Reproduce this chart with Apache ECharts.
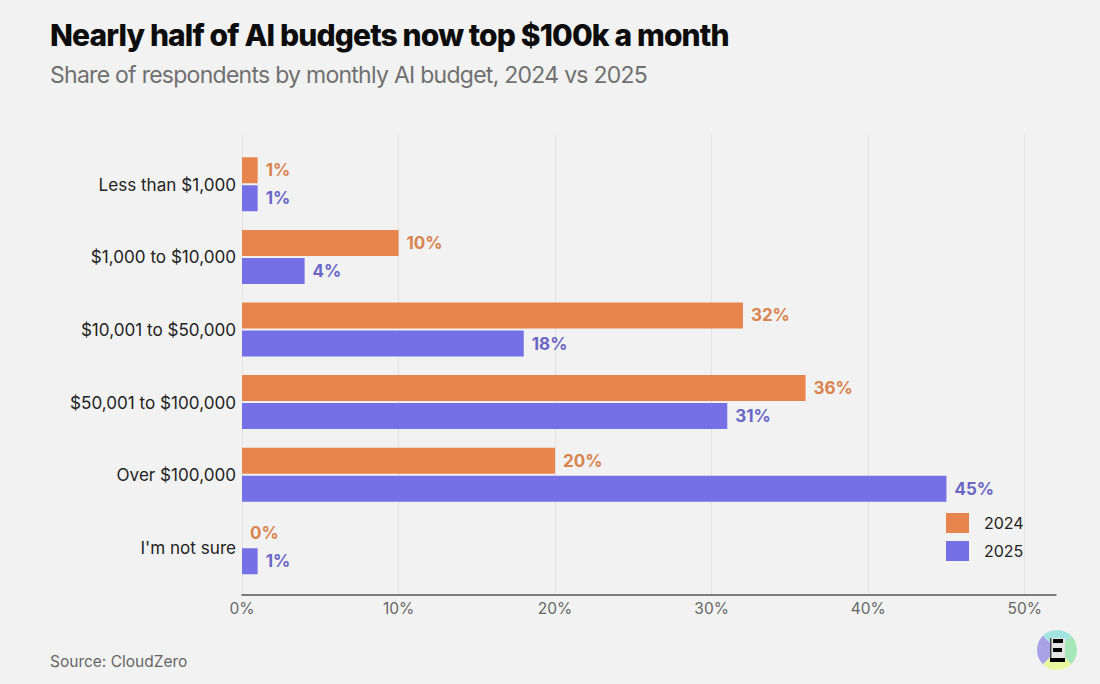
<!DOCTYPE html>
<html><head><meta charset="utf-8">
<style>html,body{margin:0;padding:0;background:#f2f2f2}#c{width:1100px;height:684px}</style>
<script src="https://cdn.jsdelivr.net/npm/echarts@6/dist/echarts.min.js"></script>
</head><body><div id="c"></div>
<script>
const categories = ["Less than $1,000","$1,000 to $10,000","$10,001 to $50,000","$50,001 to $100,000","Over $100,000","I'm not sure"];
const values2024 = [1,10,32,36,20,0];
const values2025 = [1,4,18,31,45,1];
const ticksMax = 52;
const titleText = "Nearly half of AI budgets now top $100k a month";
const subtitleText = "Share of respondents by monthly AI budget, 2024 vs 2025";
const sourceText = "Source: CloudZero";
const F = "Inter, 'Noto Sans', sans-serif";
const chart = echarts.init(document.getElementById('c'), null, {renderer:'svg'});
const lx = 1057, ly = 650, r = 20, rad = d => d*Math.PI/180;
const sector = (a,b,c) => ({type:'sector',shape:{cx:lx,cy:ly,r:r,r0:0,startAngle:rad(a),endAngle:rad(b)},style:{fill:c},z:10});
chart.setOption({
  animation:false,
  backgroundColor:'#f2f2f2',
  title:[
    {text:titleText,left:45,top:15,textStyle:{fontFamily:F,fontSize:30,fontWeight:800,color:'#0c0c0c'}},
    {text:subtitleText,left:45,top:58,textStyle:{fontFamily:F,fontSize:23,fontWeight:400,color:'#707070'}},
    {text:sourceText,left:45,top:648,textStyle:{fontFamily:F,fontSize:15.5,fontWeight:400,color:'#666666'}}
  ],
  legend:{
    data:['2024','2025'],orient:'vertical',left:941,top:508,itemWidth:23,itemHeight:20,itemGap:8,
    selectedMode:false,icon:'rect',
    textStyle:{fontFamily:F,fontSize:16,color:'#222222',padding:[0,0,0,10]}
  },
  grid:[
    {left:242,top:148,width:814,height:435.6,containLabel:false},
    {left:242,top:135,width:814,height:460,containLabel:false}
  ],
  xAxis:[
    {type:'value',gridIndex:0,min:0,max:ticksMax,show:false},
    {type:'value',gridIndex:1,min:0,max:ticksMax,interval:10,
     axisLine:{show:true,onZero:false,lineStyle:{color:'#555555',width:1.5}},axisTick:{show:false},
     splitLine:{show:true,showMaxLine:false,lineStyle:{color:'#e2e2e2',width:1}},
     axisLabel:{formatter:v=>v+'%',fontFamily:F,fontSize:15.5,color:'#666666',margin:5,showMaxLabel:false}}
  ],
  yAxis:[
    {type:'category',gridIndex:0,data:categories,inverse:true,
     axisLine:{show:false},axisTick:{show:false},splitLine:{show:false},
     axisLabel:{fontFamily:F,fontSize:17.1,color:'#222222',margin:6,padding:[6,0,0,0]}},
    {type:'value',gridIndex:1,min:0,max:1,show:true,
     axisLine:{show:false},axisTick:{show:false},axisLabel:{show:false},splitLine:{show:false}}
  ],
  series:[
    {name:'2024',type:'bar',xAxisIndex:0,yAxisIndex:0,data:values2024,barWidth:26,barGap:'7.7%',z:3,
     itemStyle:{color:'#e8854d',borderWidth:0},
     label:{show:true,position:'right',distance:8,padding:[0,0,2,0],formatter:p=>p.value+'%',fontFamily:F,fontSize:17,fontWeight:700,color:'#d9834f'}},
    {name:'2025',type:'bar',xAxisIndex:0,yAxisIndex:0,data:values2025,barWidth:26,z:3,
     itemStyle:{color:'#7570e6',borderWidth:0},
     label:{show:true,position:'right',distance:8,padding:[0,0,2,0],formatter:p=>p.value+'%',fontFamily:F,fontSize:17,fontWeight:700,color:'#6a66c6'}}
  ],
  graphic:[
    sector(-135,-45,'#a3e4e2'),sector(-45,45,'#a6e6b9'),sector(45,135,'#e9f7a0'),sector(135,225,'#a9a2e6'),
    {type:'rect',shape:{x:lx-7,y:ly-12,width:15,height:24},style:{fill:'#e6e6e6'},z:11},
    {type:'rect',shape:{x:lx-7,y:ly-12,width:1.5,height:24},style:{fill:'#444444'},z:12},
    {type:'rect',shape:{x:lx-4,y:ly-11,width:10,height:4},style:{fill:'#000000'},z:12},
    {type:'rect',shape:{x:lx-4,y:ly-2,width:9,height:4},style:{fill:'#000000'},z:12},
    {type:'rect',shape:{x:lx-7,y:ly+8,width:15,height:4},style:{fill:'#000000'},z:12}
  ]
});
const spacing = {[titleText]:'-0.87px',[subtitleText]:'-0.73px'};
document.querySelectorAll('#c svg text').forEach(t=>{
  const s = spacing[t.textContent];
  if (s) t.style.letterSpacing = s;
});
</script></body></html>
